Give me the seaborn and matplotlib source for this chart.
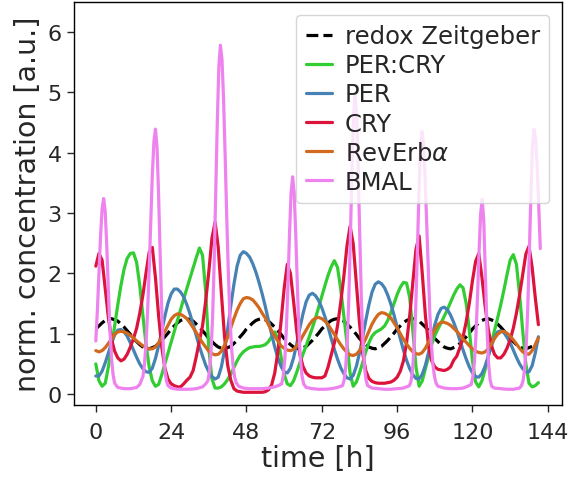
import numpy as np
import matplotlib
matplotlib.use("Agg")
import matplotlib.pyplot as plt
import seaborn as sns

# hourly sampling grid (h)
hours = np.arange(142)

redox = [
    1.08, 1.13, 1.18, 1.22, 1.24, 1.25, 1.23, 1.21, 1.16, 1.11, 1.05, 0.99,
    0.92, 0.87, 0.82, 0.78, 0.76, 0.75, 0.77, 0.79, 0.84, 0.89, 0.95, 1.01,
    1.08, 1.13, 1.18, 1.22, 1.24, 1.25, 1.23, 1.21, 1.16, 1.11, 1.05, 0.99,
    0.92, 0.87, 0.82, 0.78, 0.76, 0.75, 0.77, 0.79, 0.84, 0.89, 0.95, 1.01,
    1.08, 1.13, 1.18, 1.22, 1.24, 1.25, 1.23, 1.21, 1.16, 1.11, 1.05, 0.99,
    0.92, 0.87, 0.82, 0.78, 0.76, 0.75, 0.77, 0.79, 0.84, 0.89, 0.95, 1.01,
    1.08, 1.13, 1.18, 1.22, 1.24, 1.25, 1.23, 1.21, 1.16, 1.11, 1.05, 0.99,
    0.92, 0.87, 0.82, 0.78, 0.76, 0.75, 0.77, 0.79, 0.84, 0.89, 0.95, 1.01,
    1.08, 1.13, 1.18, 1.22, 1.24, 1.25, 1.23, 1.21, 1.16, 1.11, 1.05, 0.99,
    0.92, 0.87, 0.82, 0.78, 0.76, 0.75, 0.77, 0.79, 0.84, 0.89, 0.95, 1.01,
    1.08, 1.13, 1.18, 1.22, 1.24, 1.25, 1.23, 1.21, 1.16, 1.11, 1.05, 0.99,
    0.92, 0.87, 0.82, 0.78, 0.76, 0.75, 0.77, 0.79, 0.84, 0.89,
]

per_cry = [
    0.50, 0.22, 0.13, 0.18, 0.45, 0.78, 1.13, 1.48, 1.80, 2.07,
    2.25, 2.33, 2.34, 2.18, 1.80, 1.30, 0.82, 0.45, 0.22, 0.13,
    0.16, 0.32, 0.50, 0.68, 0.86, 1.04, 1.22, 1.40, 1.58, 1.75,
    1.92, 2.09, 2.26, 2.42, 2.30, 1.70, 0.75, 0.25, 0.10, 0.10,
    0.12, 0.17, 0.24, 0.33, 0.44, 0.55, 0.64, 0.70, 0.74, 0.77,
    0.78, 0.79, 0.79, 0.80, 0.82, 0.87, 0.95, 1.03, 0.92, 0.62,
    0.33, 0.17, 0.14, 0.22, 0.36, 0.52, 0.66, 0.80, 0.95, 1.10,
    1.26, 1.44, 1.62, 1.80, 1.97, 2.11, 2.21, 2.10, 1.75, 1.30,
    0.85, 0.35, 0.13, 0.20, 0.35, 0.52, 0.70, 0.85, 0.96, 1.02,
    1.05, 1.08, 1.13, 1.22, 1.35, 1.50, 1.65, 1.77, 1.85, 1.84,
    1.60, 1.05, 0.45, 0.13, 0.22, 0.42, 0.62, 0.82, 0.97, 1.08,
    1.18, 1.29, 1.40, 1.52, 1.64, 1.74, 1.81, 1.76, 1.50, 1.05,
    0.55, 0.20, 0.12, 0.22, 0.40, 0.62, 0.84, 1.05, 1.26, 1.48,
    1.72, 1.98, 2.22, 2.31, 2.15, 1.65, 1.05, 0.50, 0.18, 0.12,
    0.14, 0.19,
]

per = [
    0.30, 0.30, 0.38, 0.52, 0.68, 0.85, 0.98, 1.06, 1.07, 1.03,
    0.96, 0.85, 0.73, 0.61, 0.50, 0.42, 0.37, 0.36, 0.43, 0.59,
    0.80, 1.04, 1.29, 1.51, 1.66, 1.74, 1.74, 1.69, 1.61, 1.48,
    1.33, 1.15, 0.97, 0.79, 0.63, 0.48, 0.37, 0.29, 0.25, 0.28,
    0.45, 0.72, 1.07, 1.46, 1.82, 2.12, 2.30, 2.36, 2.33, 2.27,
    2.16, 2.02, 1.85, 1.66, 1.45, 1.22, 0.99, 0.78, 0.60, 0.46,
    0.37, 0.35, 0.43, 0.60, 0.83, 1.09, 1.33, 1.53, 1.64, 1.67,
    1.63, 1.55, 1.43, 1.28, 1.11, 0.92, 0.74, 0.58, 0.44, 0.34,
    0.27, 0.25, 0.31, 0.46, 0.68, 0.94, 1.22, 1.48, 1.69, 1.82,
    1.86, 1.83, 1.76, 1.64, 1.49, 1.31, 1.11, 0.92, 0.73, 0.56,
    0.42, 0.32, 0.26, 0.25, 0.33, 0.48, 0.69, 0.93, 1.15, 1.32,
    1.42, 1.44, 1.40, 1.31, 1.19, 1.05, 0.89, 0.73, 0.58, 0.45,
    0.35, 0.29, 0.28, 0.34, 0.46, 0.62, 0.79, 0.94, 1.03, 1.05,
    1.02, 0.94, 0.85, 0.73, 0.61, 0.50, 0.42, 0.37, 0.37, 0.47,
    0.68, 0.95,
]

cry = [
    2.12, 2.33, 2.22, 1.74, 1.27, 0.91, 0.71, 0.60, 0.55, 0.58,
    0.66, 0.78, 0.92, 1.09, 1.34, 1.64, 2.01, 2.35, 2.43, 1.93,
    1.30, 0.78, 0.43, 0.25, 0.17, 0.14, 0.12, 0.12, 0.17, 0.23,
    0.28, 0.39, 0.62, 0.88, 1.13, 1.54, 2.03, 2.58, 2.85, 2.43,
    1.67, 0.96, 0.48, 0.23, 0.09, 0.05, 0.04, 0.03, 0.03, 0.03,
    0.03, 0.03, 0.03, 0.03, 0.04, 0.07, 0.15, 0.35, 0.70, 1.20,
    1.75, 2.15, 2.00, 1.54, 1.04, 0.66, 0.46, 0.35, 0.30, 0.28,
    0.27, 0.27, 0.27, 0.30, 0.45, 0.65, 0.85, 1.13, 1.51, 1.94,
    2.45, 2.78, 2.49, 1.83, 1.18, 0.68, 0.39, 0.26, 0.21, 0.19,
    0.18, 0.18, 0.18, 0.19, 0.20, 0.23, 0.28, 0.38, 0.55, 0.85,
    1.30, 1.85, 2.40, 2.62, 2.00, 1.30, 0.80, 0.55, 0.45, 0.41,
    0.40, 0.39, 0.41, 0.45, 0.56, 0.63, 0.77, 0.95, 1.20, 1.51,
    1.88, 2.20, 2.33, 1.94, 1.47, 1.08, 0.81, 0.66, 0.60, 0.60,
    0.66, 0.76, 0.90, 1.09, 1.34, 1.64, 1.98, 2.32, 2.45, 2.10,
    1.60, 1.15,
]

reverb = [
    0.72, 0.70, 0.72, 0.77, 0.84, 0.91, 0.99, 1.03, 1.04, 1.03,
    1.01, 0.97, 0.93, 0.88, 0.84, 0.80, 0.77, 0.75, 0.75, 0.78,
    0.85, 0.94, 1.04, 1.14, 1.24, 1.30, 1.33, 1.32, 1.29, 1.25,
    1.18, 1.10, 1.02, 0.93, 0.85, 0.78, 0.71, 0.67, 0.65, 0.66,
    0.71, 0.81, 0.94, 1.10, 1.25, 1.39, 1.50, 1.58, 1.60, 1.59,
    1.56, 1.50, 1.43, 1.34, 1.26, 1.15, 1.05, 0.96, 0.88, 0.80,
    0.76, 0.73, 0.72, 0.74, 0.80, 0.87, 0.97, 1.06, 1.15, 1.22,
    1.26, 1.27, 1.25, 1.21, 1.15, 1.07, 0.99, 0.90, 0.82, 0.75,
    0.69, 0.65, 0.64, 0.66, 0.72, 0.81, 0.92, 1.04, 1.16, 1.25,
    1.32, 1.35, 1.34, 1.31, 1.26, 1.18, 1.10, 1.00, 0.91, 0.83,
    0.76, 0.70, 0.67, 0.66, 0.69, 0.76, 0.86, 0.96, 1.07, 1.15,
    1.19, 1.19, 1.17, 1.14, 1.09, 1.04, 0.98, 0.91, 0.86, 0.80,
    0.75, 0.71, 0.69, 0.68, 0.70, 0.75, 0.83, 0.92, 0.99, 1.03,
    1.04, 1.01, 0.96, 0.90, 0.83, 0.76, 0.70, 0.67, 0.66, 0.72,
    0.82, 0.93,
]

# BMAL is sampled more finely around its sharp peaks
bmal_time = [
    0, 0.5, 1, 1.5, 2, 2.5, 3, 3.5, 4, 4.5, 5, 5.5, 6, 7, 9, 11, 13, 14,
    15, 15.5, 16, 16.5, 17, 17.5, 18, 18.5, 19, 19.5, 20, 20.5, 21, 21.5,
    22, 22.5, 23, 24, 26, 28, 30, 32, 34, 35,
    35.7, 36.2, 36.7, 37.2, 37.7, 38.2, 38.7, 39.2, 39.7, 40.2, 40.7, 41.2,
    41.7, 42.2, 42.7, 43.2, 43.7, 44.2, 44.7, 45.5, 47, 49, 51, 53, 55, 57,
    58.5, 59.2, 59.7, 60.2, 60.7, 61.2, 61.7, 62.2, 62.7, 63.2, 63.7, 64.2,
    64.7, 65.2, 65.7, 66.2, 67, 69, 71, 73, 75, 77, 78,
    78.6, 79.1, 79.6, 80.1, 80.6, 81.1, 81.6, 82.1, 82.6, 83.1, 83.6, 84.1,
    84.6, 85.1, 85.6, 86.1, 86.6, 88, 90, 92, 94, 96, 98, 99.5,
    99.9, 100.4, 100.9, 101.4, 101.9, 102.4, 102.9, 103.4, 103.9, 104.4,
    104.9, 105.4, 105.9, 106.4, 106.9, 107.4, 107.9, 108.4, 109, 111, 113,
    115, 117, 118.5,
    119.6, 120.1, 120.6, 121.1, 121.6, 122.1, 122.6, 123.1, 123.6, 124.1,
    124.6, 125.1, 125.6, 126.1, 127, 129, 131, 133, 135,
    135.6, 136.1, 136.6, 137.1, 137.6, 138.1, 138.6, 139.1, 139.6, 140.1,
    140.6, 141.1, 141.6,
]
bmal = [
    0.88, 1.39, 2.01, 2.61, 3.07, 3.24, 3.02, 2.44, 1.71, 1.06, 0.59, 0.32,
    0.18, 0.11, 0.09, 0.09, 0.11, 0.16,
    0.29, 0.49, 0.84, 1.37, 2.06, 2.86, 3.63, 4.18, 4.39, 4.09, 3.29, 2.31,
    1.41, 0.77, 0.40, 0.22, 0.14, 0.10, 0.08, 0.08, 0.08, 0.09, 0.12, 0.17,
    0.22, 0.37, 0.69, 1.27, 2.16, 3.31, 4.51, 5.43, 5.78, 5.54, 4.88, 3.96,
    2.95, 2.04, 1.31, 0.80, 0.48, 0.29, 0.19, 0.13, 0.10, 0.09, 0.09, 0.09,
    0.10, 0.12,
    0.15, 0.17, 0.30, 0.57, 1.07, 1.80, 2.64, 3.33, 3.60, 3.33, 2.64, 1.80,
    1.07, 0.57, 0.30, 0.17, 0.11, 0.09, 0.08, 0.08, 0.09, 0.11, 0.13,
    0.14, 0.23, 0.44, 0.86, 1.58, 2.59, 3.71, 4.61, 4.95, 4.61, 3.71, 2.59,
    1.58, 0.86, 0.44, 0.23, 0.14, 0.10, 0.09, 0.08, 0.08, 0.09, 0.10, 0.13,
    0.14, 0.21, 0.40, 0.77, 1.40, 2.28, 3.26, 4.05, 4.35, 4.15,
    3.60, 2.84, 2.05, 1.35, 0.83, 0.49, 0.29, 0.18, 0.13, 0.10, 0.09,
    0.09, 0.10, 0.13,
    0.16, 0.28, 0.52, 0.97, 1.62, 2.37, 2.99, 3.23, 2.86, 2.00,
    1.12, 0.52, 0.24, 0.13, 0.10, 0.09, 0.08, 0.08, 0.10,
    0.14, 0.22, 0.40, 0.77, 1.41, 2.31, 3.29, 4.09, 4.39, 4.23,
    3.78, 3.13, 2.41,
]

series = [
    ("redox Zeitgeber", hours, redox, "black", "--"),
    ("PER:CRY", hours, per_cry, "limegreen", "-"),
    ("PER", hours, per, "steelblue", "-"),
    ("CRY", hours, cry, "crimson", "-"),
    (r"RevErb$\alpha$", hours, reverb, "chocolate", "-"),
    ("BMAL", bmal_time, bmal, "violet", "-"),
]

xticks = [0, 24, 48, 72, 96, 120, 144]
yticks = [0, 1, 2, 3, 4, 5, 6]

sns.set_style("ticks")
plt.rcParams["font.family"] = ["DejaVu Sans"]

fig = plt.figure(figsize=(5.79, 4.81), dpi=100)
ax = fig.add_axes([0.127, 0.156, 0.843, 0.837])

for name, t, v, color, ls in series:
    sns.lineplot(x=t, y=v, ax=ax, color=color, linestyle=ls, linewidth=2.3,
                 label=name, estimator=None, sort=False)

ax.set_xlim(-7.1, 148.4)
ax.set_ylim(-0.18, 6.49)
ax.set_xticks(xticks)
ax.set_yticks(yticks)
ax.tick_params(labelsize=16, length=5, width=1.0)
ax.tick_params(axis="x", pad=7)
for s in ax.spines.values():
    s.set_linewidth(1.0)
    s.set_color("black")
ax.set_xlabel("time [h]", fontsize=20.5, labelpad=2)
ax.set_ylabel("norm. concentration [a.u.]", fontsize=20.5)

ax.legend(loc="upper right", fontsize=17.5, handlelength=1.1,
          handletextpad=0.5, labelspacing=0.21, borderpad=0.4,
          framealpha=0.8)

fig.savefig("out.png", dpi=100)
